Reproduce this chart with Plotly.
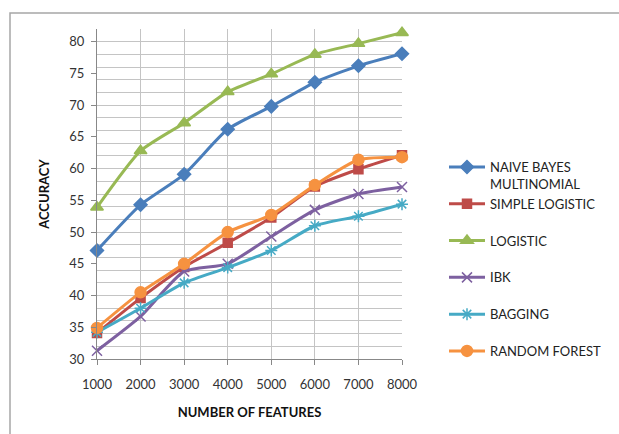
import plotly.graph_objects as go

features = [1000, 2000, 3000, 4000, 5000, 6000, 7000, 8000]
feature_labels = ["1000", "2000", "3000", "4000", "5000", "6000", "7000", "8000"]

naive_bayes = [47.1, 54.3, 59.1, 66.2, 69.8, 73.6, 76.2, 78.1]
simple_logistic = [34.1, 39.6, 44.5, 48.3, 52.3, 57.2, 59.9, 62.1]
logistic = [53.9, 62.8, 67.2, 72.1, 74.9, 78.0, 79.7, 81.4]
ibk = [31.3, 36.7, 43.8, 45.0, 49.3, 53.5, 56.0, 57.1]
bagging = [34.2, 38.0, 42.0, 44.4, 47.1, 51.0, 52.5, 54.4]
random_forest = [34.9, 40.5, 45.0, 50.0, 52.7, 57.4, 61.4, 61.8]

series = [
    ("NAIVE BAYES<br>MULTINOMIAL", naive_bayes, "#4A7EBB", "diamond", 10),
    ("SIMPLE LOGISTIC<br> ", simple_logistic, "#BE4B48", "square", 9),
    ("LOGISTIC<br> ", logistic, "#98B954", "triangle-up", 11),
    ("IBK<br> ", ibk, "#7D60A0", "x-thin-open", 10),
    ("BAGGING<br> ", bagging, "#46AAC5", "asterisk-open", 10),
    ("RANDOM FOREST<br> ", random_forest, "#F69240", "circle", 11),
]

FONT = "Lato, 'Open Sans', sans-serif"

fig = go.Figure()
for name, vals, color, sym, size in series:
    fig.add_trace(go.Scatter(
        x=features, y=vals, name=name, mode="lines+markers",
        line=dict(color=color, width=3, shape="spline", smoothing=0.6),
        marker=dict(symbol=sym, size=size, color=color,
                    line=dict(color=color, width=1.5)),
        cliponaxis=False,
    ))

# dummy trace to carry the labelled overlay axis
fig.add_trace(go.Scatter(x=[features[0]], y=[None], yaxis="y2",
                         showlegend=False, hoverinfo="skip"))

L, R, T, B = 97, 217, 29, 75
W, H = 619, 434
pw, ph = W - L - R, H - T - B

fig.update_layout(
    width=W, height=H,
    margin=dict(l=L, r=R, t=T, b=B, pad=0),
    paper_bgcolor="white", plot_bgcolor="white",
    font=dict(family=FONT, size=13, color="#333333"),
    showlegend=True,
    legend=dict(x=(444 - L) / pw, xanchor="left", y=(359 - 152) / ph, yanchor="top",
                valign="top", itemwidth=36, font=dict(size=13, color="#222222"),
                bgcolor="rgba(0,0,0,0)", tracegroupgap=0),
    xaxis=dict(
        range=[1000, 8000], tickmode="array", tickvals=features, ticktext=feature_labels,
        showgrid=True, gridcolor="#C4C4C4", gridwidth=1,
        showline=True, linecolor="#888888", linewidth=1,
        ticks="outside", ticklen=5, tickcolor="#888888",
        ticklabelstandoff=8,
        tickfont=dict(size=13, color="#333333"),
        zeroline=False,
        title=dict(text="<b>NUMBER OF FEATURES</b>", standoff=17,
                   font=dict(size=13, color="#111111")),
    ),
    yaxis=dict(
        range=[30, 82], dtick=2, tick0=30,
        showgrid=True, gridcolor="#C4C4C4", gridwidth=1,
        showticklabels=False, ticks="",
        showline=True, linecolor="#888888", linewidth=1,
        zeroline=False,
    ),
    yaxis2=dict(
        range=[30, 82], overlaying="y", side="left", anchor="x",
        tickmode="array", tickvals=[30, 35, 40, 45, 50, 55, 60, 65, 70, 75, 80],
        showgrid=False, zeroline=False, showline=False,
        ticks="outside", ticklen=5, tickcolor="#888888",
        ticklabelstandoff=4,
        tickfont=dict(size=13, color="#333333"),
        title=dict(text="<b>ACCURACY</b>", standoff=16,
                   font=dict(size=13, color="#111111")),
    ),
    shapes=[dict(
        type="rect", xref="paper", yref="paper",
        x0=(10 - L) / pw, x1=(W + 10 - L) / pw,
        y0=(H - B - (H + 10)) / ph, y1=(H - B - 13) / ph,
        line=dict(color="#A6A6A6", width=1.5), fillcolor="rgba(0,0,0,0)",
        layer="below",
    )],
)

fig.write_html("out.html", config={"displayModeBar": False},
               post_script="document.body.style.margin='0';")
